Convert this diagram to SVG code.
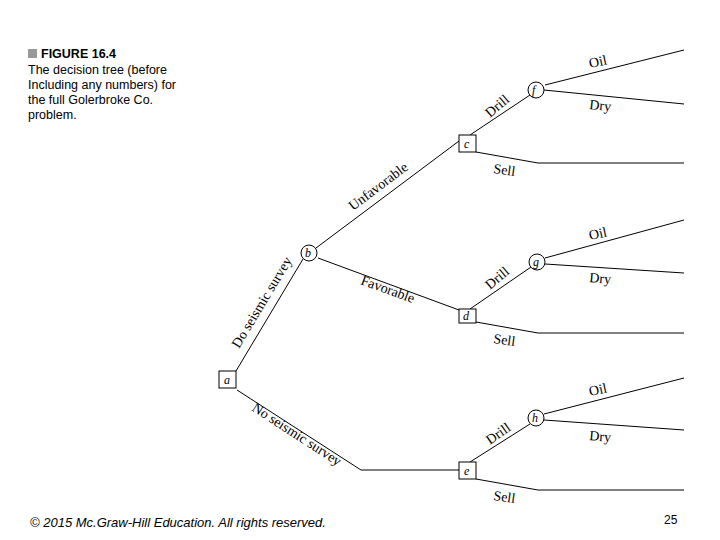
<svg xmlns="http://www.w3.org/2000/svg" width="720" height="540" viewBox="0 0 720 540">
<style>
.l{stroke:#000;stroke-width:1;fill:none}
.n{stroke:#000;stroke-width:1;fill:#fff}
.t{font-family:"Liberation Serif",serif;font-size:14px;fill:#000}
.i{font-family:"Liberation Serif",serif;font-size:12px;font-style:italic;fill:#000}
.h{font-family:"Liberation Sans",Arial,sans-serif;font-size:12.5px;fill:#000}
</style>
<rect width="720" height="540" fill="#fff"/>
<rect x="28" y="49" width="9" height="9" fill="#999"/>
<text x="41" y="58" class="h" font-weight="bold">FIGURE 16.4</text>
<text x="28" y="74" class="h">The decision tree (before</text>
<text x="28" y="89" class="h">Including any numbers) for</text>
<text x="28" y="104" class="h">the full Golerbroke Co.</text>
<text x="28" y="119" class="h">problem.</text>
<g id="connectors">
<path class="l" d="M236 371 L303 259"/>
<path class="l" d="M237 390 L361 470 L459 470"/>
<path class="l" d="M316 248 L459 141"/>
<path class="l" d="M318 258 L459 310"/>
<path class="l" d="M470 135 L530 95"/>
<path class="l" d="M545 85 L684 50"/>
<path class="l" d="M544 90 L684 104"/>
<path class="l" d="M476 152 L538 163 L684 163"/>
<path class="l" d="M470 309 L531 267"/>
<path class="l" d="M545 258 L684 220"/>
<path class="l" d="M545 264 L684 273"/>
<path class="l" d="M476 322 L538 333 L684 333"/>
<path class="l" d="M470 462 L530 424"/>
<path class="l" d="M544 414 L684 378"/>
<path class="l" d="M544 420 L684 430"/>
<path class="l" d="M476 479 L538 490 L684 490"/>
</g>
<g id="a"><rect class="n" x="219" y="371" width="17" height="17"/><text x="224" y="384" class="i">a</text></g>
<g id="b"><circle class="n" cx="309" cy="253" r="8"/><text x="305" y="257" class="i">b</text></g>
<g id="c"><rect class="n" x="459" y="135" width="17" height="17"/><text x="464" y="148" class="i">c</text></g>
<g id="d"><rect class="n" x="459" y="309" width="17" height="14"/><text x="463" y="320" class="i">d</text></g>
<g id="e"><rect class="n" x="459" y="462" width="17" height="17"/><text x="464" y="475" class="i">e</text></g>
<g id="f"><circle class="n" cx="536" cy="90" r="8"/><text x="532" y="94" class="i">f</text></g>
<g id="g"><circle class="n" cx="537" cy="262" r="8"/><text x="533" y="266" class="i">g</text></g>
<g id="h"><circle class="n" cx="536" cy="418" r="8"/><text x="532" y="422" class="i">h</text></g>
<g id="labels">
<text class="t" transform="translate(239,349) rotate(-59)">Do seismic survey</text>
<text class="t" transform="translate(251,410) rotate(33)">No seismic survey</text>
<text class="t" transform="translate(353,211) rotate(-37)">Unfavorable</text>
<text class="t" transform="translate(360,284) rotate(20)">Favorable</text>
<text class="t" transform="translate(490,118) rotate(-40)">Drill</text>
<text class="t" transform="translate(490,290) rotate(-40)">Drill</text>
<text class="t" transform="translate(490,445) rotate(-35)">Drill</text>
<text class="t" transform="translate(590,68) rotate(-12)">Oil</text>
<text class="t" transform="translate(590,240) rotate(-12)">Oil</text>
<text class="t" transform="translate(590,396) rotate(-12)">Oil</text>
<text class="t" transform="translate(589,109) rotate(6)">Dry</text>
<text class="t" transform="translate(589,282) rotate(5)">Dry</text>
<text class="t" transform="translate(589,440) rotate(5)">Dry</text>
<text class="t" transform="translate(493,173) rotate(8)">Sell</text>
<text class="t" transform="translate(493,343) rotate(8)">Sell</text>
<text class="t" transform="translate(493,500) rotate(8)">Sell</text>
</g>
<text x="30" y="527" font-family="Liberation Sans,sans-serif" font-size="13" font-style="italic">© 2015 Mc.Graw-Hill Education. All rights reserved.</text>
<text x="664" y="524" font-family="Liberation Sans,sans-serif" font-size="12">25</text>
</svg>
